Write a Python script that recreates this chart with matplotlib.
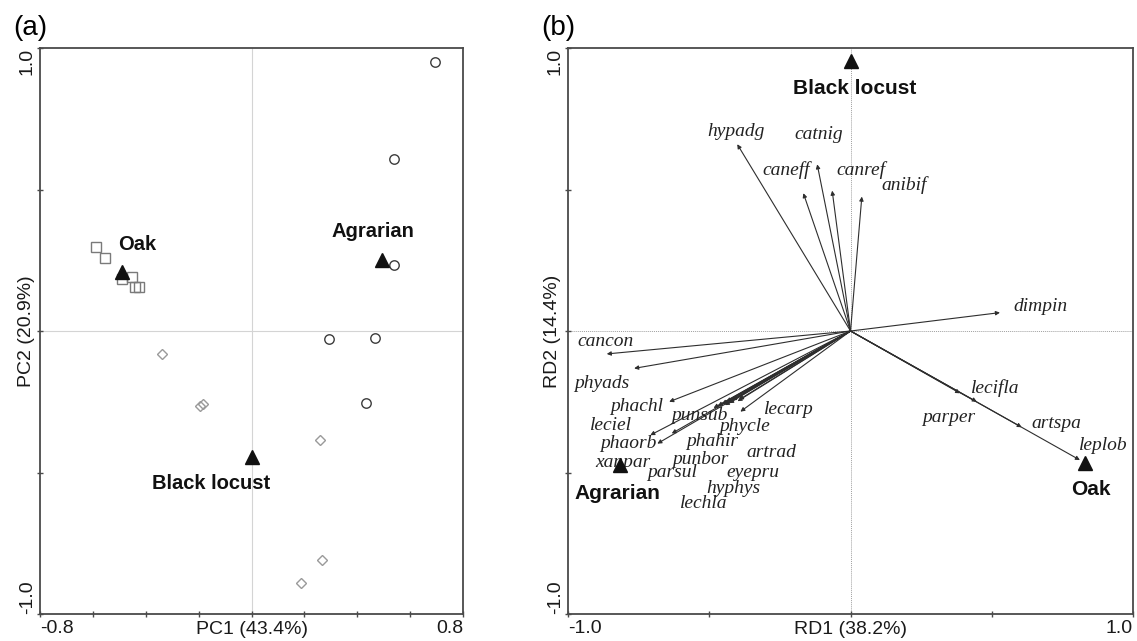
import numpy as np
import matplotlib.pyplot as plt

plt.rcParams['font.family'] = ['Liberation Sans', 'DejaVu Sans']

# ---------------------------------------------------------------------------
# Panel (a): PCA site scores
# ---------------------------------------------------------------------------
agr_pc1 = [0.696, 0.538, 0.538, 0.295, 0.468, 0.434]
agr_pc2 = [0.949, 0.608, 0.233, -0.029, -0.024, -0.253]

oak_pc1 = [-0.589, -0.556, -0.490, -0.452, -0.440, -0.427]
oak_pc2 = [0.297, 0.259, 0.183, 0.192, 0.157, 0.157]

blk_pc1 = [-0.340, -0.194, -0.184, 0.260, 0.265, 0.186]
blk_pc2 = [-0.082, -0.265, -0.259, -0.385, -0.809, -0.892]

groups = ['Oak', 'Agrarian', 'Black locust']
cent_pc1 = [-0.491, 0.494, 0.001]
cent_pc2 = [0.210, 0.251, -0.444]
cent_lab_a = [(-0.433, 0.304), (0.461, 0.353), (-0.153, -0.538)]

# ---------------------------------------------------------------------------
# Panel (b): RDA species arrows and centroids
# ---------------------------------------------------------------------------
species = ['hypadg', 'catnig', 'caneff', 'canref', 'anibif', 'dimpin',
           'cancon', 'phyads', 'phachl', 'leciel', 'phaorb', 'xanpar',
           'punsub', 'phycle', 'lecarp', 'phahir', 'punbor', 'artrad',
           'parsul', 'eyepru', 'hyphys', 'lechla',
           'lecifla', 'parper', 'artspa', 'leplob']
rd1 = [-0.401, -0.118, -0.167, -0.065, 0.040, 0.529,
       -0.863, -0.766, -0.642, -0.709, -0.684, -0.633,
       -0.485, -0.420, -0.390, -0.440, -0.455, -0.395,
       -0.470, -0.400, -0.430, -0.445,
       0.388, 0.447, 0.606, 0.812]
rd2 = [0.660, 0.589, 0.487, 0.496, 0.475, 0.065,
       -0.081, -0.132, -0.250, -0.368, -0.398, -0.362,
       -0.272, -0.245, -0.285, -0.250, -0.258, -0.243,
       -0.265, -0.248, -0.255, -0.262,
       -0.220, -0.250, -0.340, -0.456]
# label anchor positions (label centres, as placed in the original)
lab_rd1 = [-0.405, -0.114, -0.229, 0.037, 0.189, 0.674,
           -0.868, -0.879, -0.757, -0.848, -0.786, -0.806,
           -0.535, -0.377, -0.219, -0.491, -0.530, -0.279,
           -0.633, -0.345, -0.416, -0.519,
           0.511, 0.349, 0.728, 0.896]
lab_rd2 = [0.704, 0.693, 0.569, 0.569, 0.516, 0.086,
           -0.038, -0.185, -0.267, -0.333, -0.396, -0.463,
           -0.298, -0.338, -0.279, -0.389, -0.453, -0.430,
           -0.501, -0.499, -0.558, -0.608,
           -0.203, -0.305, -0.326, -0.403]

cent_rd1 = [0.830, -0.816, 0.000]
cent_rd2 = [-0.468, -0.473, 0.955]
cent_lab_b = [(0.852, -0.559), (-0.826, -0.574), (0.014, 0.858)]

SPINE = '#4a4a4a'


def style_axes(ax, xticks, yticks, xlabel, ylabel):
    for s in ax.spines.values():
        s.set_color(SPINE)
        s.set_linewidth(1.3)
    ax.set_xticks(xticks)
    ax.set_yticks(yticks)
    xl = [''] * len(xticks)
    xl[0], xl[-1] = f'{xticks[0]:.1f}', f'{xticks[-1]:.1f}'
    yl = [''] * len(yticks)
    yl[0], yl[-1] = f'{yticks[0]:.1f}', f'{yticks[-1]:.1f}'
    ax.set_xticklabels(xl)
    ax.set_yticklabels(yl)
    ax.tick_params(direction='inout', length=5, width=1.0, color=SPINE,
                   labelsize=14, labelcolor='#1a1a1a')
    ax.tick_params(axis='x', pad=1.5)
    ax.tick_params(axis='y', pad=0.5, labelrotation=90)
    xt = ax.get_xticklabels()
    xt[0].set_ha('left')
    xt[-1].set_ha('right')
    yt = ax.get_yticklabels()
    for t in yt:
        t.set_va('center')
    yt[0].set_va('bottom')
    yt[-1].set_va('top')
    ax.set_xlabel(xlabel, fontsize=14, color='#1a1a1a')
    ax.set_ylabel(ylabel, fontsize=14, color='#1a1a1a')
    ax.xaxis.set_label_coords(0.5, -0.012)
    ax.yaxis.set_label_coords(-0.012, 0.5)


fig = plt.figure(figsize=(11.37, 6.41), dpi=100)
ax1 = fig.add_axes([0.0352, 0.0421, 0.3720, 0.8830])
ax2 = fig.add_axes([0.4996, 0.0421, 0.4969, 0.8830])

# ── Panel (a) ────────────────────────────────────────────────────────────
ax1.axhline(0, color='#d4d4d4', lw=0.8, zorder=0)
ax1.axvline(0, color='#d4d4d4', lw=0.8, zorder=0)
ax1.plot(oak_pc1, oak_pc2, 's', ms=6.6, mfc='none', mec='#7a7a7a', mew=1.0)
ax1.plot(blk_pc1, blk_pc2, 'D', ms=5.2, mfc='none', mec='#9a9a9a', mew=1.0)
ax1.plot(agr_pc1, agr_pc2, 'o', ms=6.8, mfc='none', mec='#3c3c3c', mew=1.0)
ax1.plot(cent_pc1, cent_pc2, '^', ms=9.5, color='#111111', zorder=5)
for g, (lx, ly) in zip(groups, cent_lab_a):
    ax1.text(lx, ly, g, fontsize=14.5, fontweight='bold', ha='center',
             va='center', color='#111111')
ax1.set_xlim(-0.8, 0.8)
ax1.set_ylim(-1.0, 1.0)
style_axes(ax1, np.round(np.arange(-0.8, 0.81, 0.2), 1), [-1.0, -0.5, 0.0, 0.5, 1.0],
           'PC1 (43.4%)', 'PC2 (20.9%)')

# ── Panel (b) ────────────────────────────────────────────────────────────
ax2.axhline(0, color='#a0a0a0', lw=0.7, ls=(0, (1, 1)), zorder=0)
ax2.axvline(0, color='#a0a0a0', lw=0.7, ls=(0, (1, 1)), zorder=0)
for x, y in zip(rd1, rd2):
    ax2.annotate('', xy=(x, y), xytext=(0, 0),
                 arrowprops=dict(arrowstyle='-|>', lw=0.8, color='#2e2e2e',
                                 mutation_scale=6, shrinkA=0, shrinkB=0))
for name, x, y in zip(species, lab_rd1, lab_rd2):
    ax2.text(x, y, name, fontsize=14, style='italic',
             family=['Liberation Serif', 'DejaVu Serif'],
             ha='center', va='center', color='#222222')
ax2.plot(cent_rd1, cent_rd2, '^', ms=9.5, color='#111111', zorder=5)
for g, (lx, ly) in zip(groups, cent_lab_b):
    ax2.text(lx, ly, g, fontsize=15, fontweight='bold', ha='center',
             va='center', color='#111111')
ax2.set_xlim(-1.0, 1.0)
ax2.set_ylim(-1.0, 1.0)
style_axes(ax2, [-1.0, -0.5, 0.0, 0.5, 1.0], [-1.0, -0.5, 0.0, 0.5, 1.0],
           'RD1 (38.2%)', 'RD2 (14.4%)')

fig.text(0.0114, 1 - 28 / 641, '(a)', fontsize=20, va='center', ha='left')
fig.text(541 / 1137, 1 - 28 / 641, '(b)', fontsize=20, va='center', ha='left')

fig.savefig('out.png', dpi=100)
